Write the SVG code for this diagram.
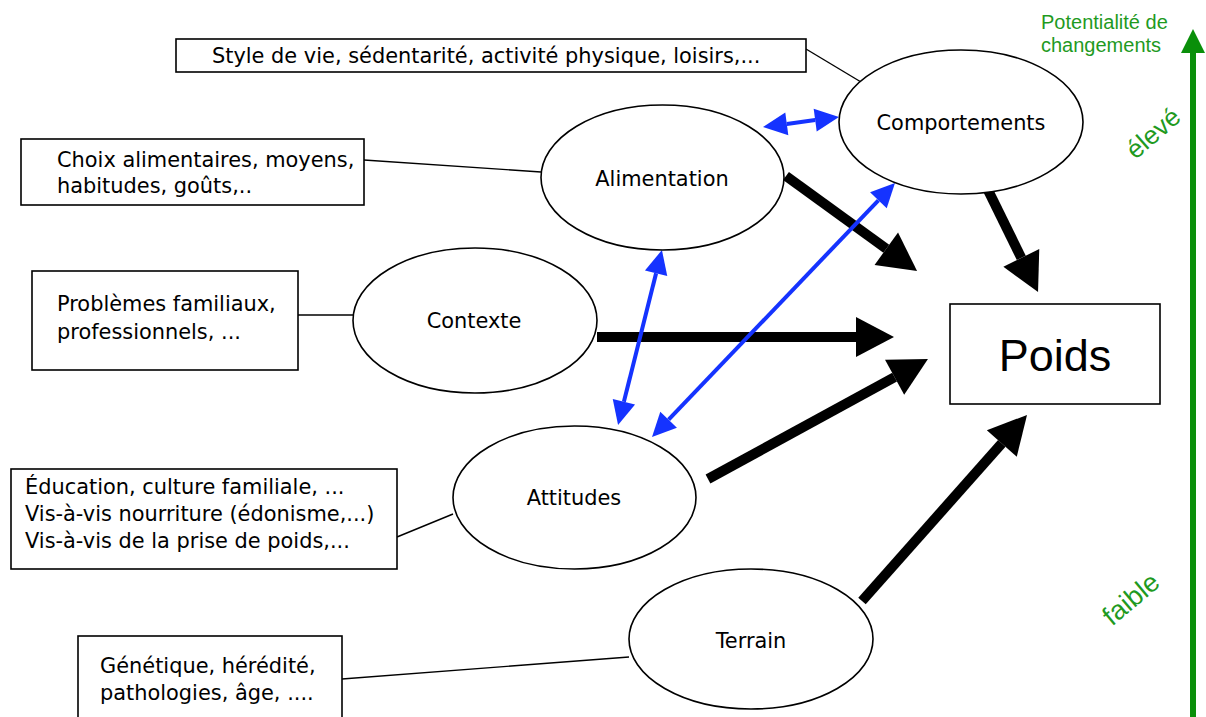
<svg xmlns="http://www.w3.org/2000/svg" width="1206" height="717" viewBox="0 0 1206 717">
<defs>
<style>
.box{fill:#fff;stroke:#000;stroke-width:1.6}
.ell{fill:#fff;stroke:#000;stroke-width:1.6}
.t{font-family:"DejaVu Sans",Verdana,sans-serif;font-size:20.9px;fill:#000}
.c{text-anchor:middle}
.thin{stroke:#000;stroke-width:1.4;fill:none}
.blk{stroke:#000;stroke-width:10;fill:none;marker-end:url(#hb)}
.blu{stroke:#1533ff;stroke-width:4;fill:none;marker-end:url(#hu);marker-start:url(#hu)}
.g{font-family:"Liberation Sans",Arial,sans-serif;fill:#1f9a1f}
</style>
<marker id="hb" markerUnits="userSpaceOnUse" markerWidth="40" markerHeight="40" refX="0" refY="20" orient="auto" overflow="visible">
<path d="M0,0 L38,20 L0,40 z" fill="#000"/>
</marker>
<marker id="hu" markerUnits="userSpaceOnUse" markerWidth="24" markerHeight="24" refX="0" refY="11.5" orient="auto-start-reverse" overflow="visible">
<path d="M0,0 L24,11.5 L0,23 z" fill="#1533ff"/>
</marker>
<marker id="hg" markerUnits="userSpaceOnUse" markerWidth="26" markerHeight="26" refX="0" refY="12" orient="auto" overflow="visible">
<path d="M0,0 L24,12 L0,24 z" fill="#0a8f0a"/>
</marker>
</defs>
<rect width="1206" height="717" fill="#fff"/>

<g id="connectors">
<line class="thin" x1="806" y1="49" x2="861" y2="82"/>
<line class="thin" x1="364" y1="160" x2="541" y2="172"/>
<line class="thin" x1="298" y1="315" x2="353" y2="315"/>
<line class="thin" x1="397" y1="537" x2="453" y2="514"/>
<line class="thin" x1="342" y1="679" x2="629" y2="657"/>
<line class="blk" x1="786" y1="176" x2="886.3" y2="248.7"/>
<line class="blk" x1="986" y1="186" x2="1021.3" y2="257.9"/>
<line class="blk" x1="597" y1="337" x2="856" y2="337"/>
<line class="blk" x1="708" y1="479" x2="894.6" y2="377.2"/>
<line class="blk" x1="862" y1="601" x2="1001.8" y2="443.4"/>
<line class="blu" x1="786.8" y1="123.9" x2="815.2" y2="120.1"/>
<line class="blu" x1="623.9" y1="401.7" x2="656.1" y2="273.3"/>
<line class="blu" x1="668.6" y1="419.7" x2="878.4" y2="200.3"/>
<line x1="1193" y1="717" x2="1193" y2="53" stroke="#0a8f0a" stroke-width="6" marker-end="url(#hg)"/>
</g>

<g id="style-box">
<rect class="box" x="176" y="39" width="630" height="33"/>
<text class="t" x="212" y="63">Style de vie, sédentarité, activité physique, loisirs,...</text>
</g>
<g id="choix-box">
<rect class="box" x="21" y="139" width="343" height="66"/>
<text class="t" x="57" y="167">Choix alimentaires, moyens,</text>
<text class="t" x="57" y="193">habitudes, goûts,..</text>
</g>
<g id="problemes-box">
<rect class="box" x="32" y="271" width="266" height="99"/>
<text class="t" x="57" y="311">Problèmes familiaux,</text>
<text class="t" x="57" y="339">professionnels, ...</text>
</g>
<g id="education-box">
<rect class="box" x="11" y="469" width="386" height="100"/>
<text class="t" x="25" y="494">Éducation, culture familiale, ...</text>
<text class="t" x="25" y="521">Vis-à-vis nourriture (édonisme,...)</text>
<text class="t" x="25" y="548">Vis-à-vis de la prise de poids,...</text>
</g>
<g id="genetique-box">
<rect class="box" x="78" y="636" width="264" height="90"/>
<text class="t" x="100" y="673">Génétique, hérédité,</text>
<text class="t" x="100" y="700">pathologies, âge, ....</text>
</g>

<g id="alimentation">
<ellipse class="ell" cx="662.5" cy="177.5" rx="121.5" ry="72.5"/>
<text class="t c" x="662" y="186">Alimentation</text>
</g>
<g id="comportements">
<ellipse class="ell" cx="961" cy="122" rx="122" ry="72"/>
<text class="t c" x="961" y="130">Comportements</text>
</g>
<g id="contexte">
<ellipse class="ell" cx="475" cy="320.5" rx="122" ry="72.5"/>
<text class="t c" x="474" y="328">Contexte</text>
</g>
<g id="attitudes">
<ellipse class="ell" cx="574.5" cy="497.5" rx="121.5" ry="71.5"/>
<text class="t c" x="574" y="505">Attitudes</text>
</g>
<g id="terrain">
<ellipse class="ell" cx="751" cy="639" rx="122" ry="70"/>
<text class="t c" x="751" y="648">Terrain</text>
</g>
<g id="poids">
<rect class="box" x="950" y="304" width="210" height="100"/>
<text x="1055" y="371" text-anchor="middle" font-family="Liberation Sans, Arial, sans-serif" font-size="45" fill="#000">Poids</text>
</g>

<g id="scale">
<text class="g" x="1041" y="29" font-size="20">Potentialité de</text>
<text class="g" x="1041" y="52" font-size="20">changements</text>
<text class="g c" x="1153" y="142" font-size="26" transform="rotate(-41 1153 133)">élevé</text>
<text class="g c" x="1131" y="608" font-size="27" transform="rotate(-40 1131 599)">faible</text>
</g>
</svg>
